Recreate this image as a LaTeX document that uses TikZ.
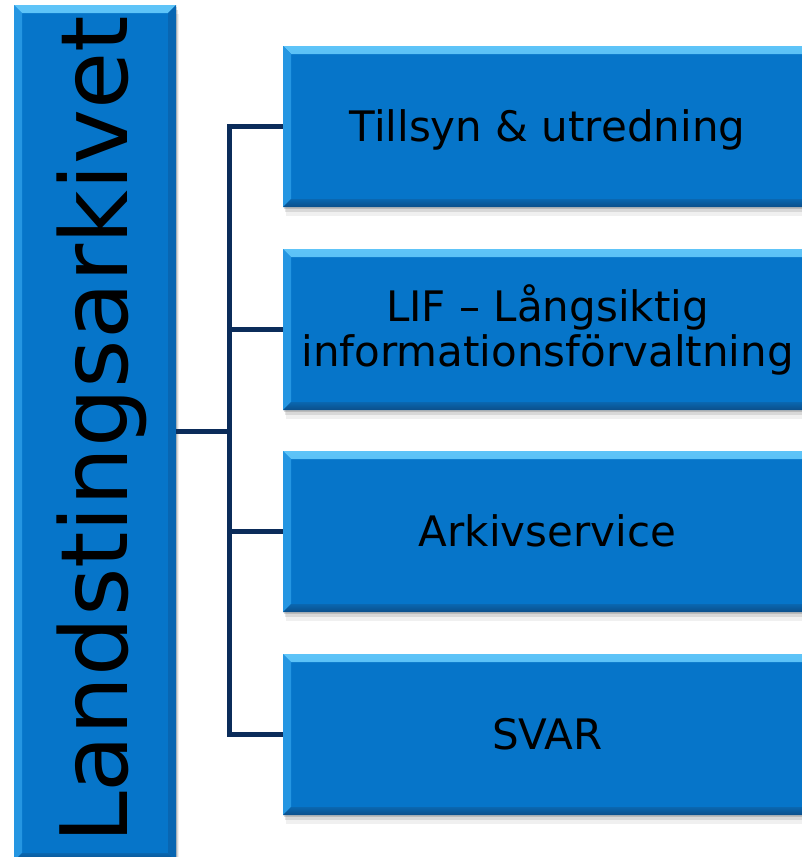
\documentclass[tikz,border=0pt]{standalone}
\usepackage{fontspec}
\setmainfont{DejaVu Sans}
\usetikzlibrary{calc}

\definecolor{boxblue}{HTML}{0675C9}
\definecolor{bevtopA}{HTML}{5EC4F8}
\definecolor{bevtopB}{HTML}{1B8BDA}
\definecolor{bevleft}{HTML}{2596E2}
\definecolor{bevbotA}{HTML}{0A67B0}
\definecolor{bevbotB}{HTML}{0B4F8A}
\definecolor{bevright}{HTML}{0866B2}
\definecolor{linkblue}{HTML}{0B2C5A}

\tikzset{
  bevelbox/.style={rectangle, fill=boxblue, inner sep=0pt, draw=none,
    preaction={fill=black, opacity=0.06, transform canvas={xshift=3pt, yshift=-9pt}},
    preaction={fill=black, opacity=0.10, transform canvas={xshift=2pt, yshift=-5pt}},
    preaction={fill=black, opacity=0.14, transform canvas={xshift=1pt, yshift=-2pt}},
    path picture={
      % top bevel
      \shade[top color=bevtopA, bottom color=bevtopB]
        (path picture bounding box.north west) -- (path picture bounding box.north east)
        -- ([shift={(-8pt,-8pt)}]path picture bounding box.north east)
        -- ([shift={(8pt,-8pt)}]path picture bounding box.north west) -- cycle;
      % left bevel
      \fill[bevleft]
        (path picture bounding box.north west) -- ([shift={(8pt,-8pt)}]path picture bounding box.north west)
        -- ([shift={(8pt,8pt)}]path picture bounding box.south west)
        -- (path picture bounding box.south west) -- cycle;
      % right bevel
      \fill[bevright]
        (path picture bounding box.north east) -- ([shift={(-8pt,-8pt)}]path picture bounding box.north east)
        -- ([shift={(-8pt,8pt)}]path picture bounding box.south east)
        -- (path picture bounding box.south east) -- cycle;
      % bottom bevel
      \shade[top color=bevbotA, bottom color=bevbotB]
        (path picture bounding box.south west) -- (path picture bounding box.south east)
        -- ([shift={(-8pt,8pt)}]path picture bounding box.south east)
        -- ([shift={(8pt,8pt)}]path picture bounding box.south west) -- cycle;
    }},
  boxtext/.style={inner sep=0pt, text=black, font=\fontsize{42}{45}\selectfont},
  link/.style={draw=linkblue, line width=5pt, line join=miter},
}

\begin{document}
\begin{tikzpicture}[x=1pt,y=-1pt]
  \useasboundingbox (0,0) rectangle (802,857);

  % left title bar
  \node[bevelbox, minimum width=162pt, minimum height=856pt] (root) at (95,433) {};
  \node[rotate=90, anchor=base west, inner sep=0pt, text=black,
        font=\fontsize{93}{100}\selectfont] (roottext) at (127,844) {Landstingsarkivet};

  % unit boxes
  \node[bevelbox, minimum width=529pt, minimum height=161pt] (b1) at (547.5,126.5) {};
  \node[bevelbox, minimum width=529pt, minimum height=161pt] (b2) at (547.5,329.5) {};
  \node[bevelbox, minimum width=529pt, minimum height=161pt] (b3) at (547.5,531.5) {};
  \node[bevelbox, minimum width=529pt, minimum height=161pt] (b4) at (547.5,734.5) {};

  \node[boxtext, anchor=base] (t1) at ([yshift=-15.3pt]b1.center) {Tillsyn \& utredning};
  \node[boxtext, align=center] (t2) at (b2.center) {LIF – Långsiktig\\informationsförvaltning};
  \node[boxtext, anchor=base] (t3) at ([yshift=-15.3pt]b3.center) {Arkivservice};
  \node[boxtext, anchor=base] (t4) at ([yshift=-15.3pt]b4.center) {SVAR};

  % connectors
  \coordinate (bus) at (229.5,431);
  \draw[link] (b1.west) -| (bus) |- (b4.west);
  \draw[link] (root.east |- bus) -- (bus);
  \draw[link] (b2.west) -- (b2.west -| bus);
  \draw[link] (b3.west) -- (b3.west -| bus);
\end{tikzpicture}
\end{document}
